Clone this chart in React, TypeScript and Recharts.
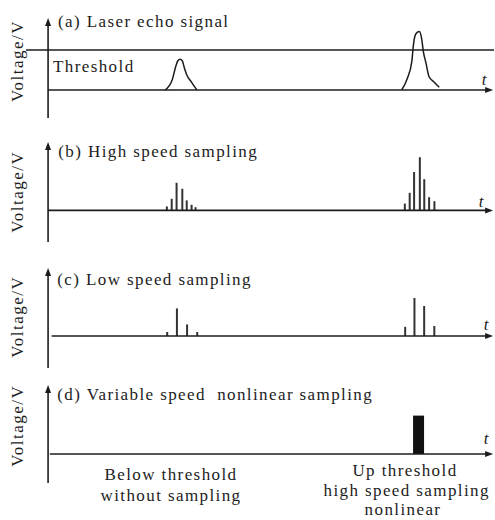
import { ComposedChart, Line, Bar, XAxis, YAxis, ReferenceLine } from "recharts";

// time axis in arbitrary units, voltage in V (threshold = 1)
const tDomain: [number, number] = [-5, 101];
const threshold = 1.0;

// (a) laser echo: weak pulse below threshold, strong pulse above it
const echoNear = [
  { t: 26.5, v: 0 }, { t: 28.1, v: 0.25 }, { t: 29.0, v: 0.62 }, { t: 29.4, v: 0.73 },
  { t: 29.9, v: 0.77 }, { t: 30.4, v: 0.73 }, { t: 30.8, v: 0.58 }, { t: 31.4, v: 0.38 },
  { t: 32.4, v: 0.21 }, { t: 33.7, v: 0 },
];
const echoFar = [
  { t: 80.1, v: 0 }, { t: 81.4, v: 0.3 }, { t: 82.4, v: 0.72 }, { t: 82.7, v: 1.08 },
  { t: 83.1, v: 1.35 }, { t: 83.6, v: 1.44 }, { t: 84.1, v: 1.46 }, { t: 84.6, v: 1.29 },
  { t: 85.0, v: 0.96 }, { t: 85.6, v: 0.67 }, { t: 86.3, v: 0.33 }, { t: 87.4, v: 0.2 },
  { t: 88.6, v: 0.07 },
];

// (b) high speed sampling
const highNear = [
  { t: 26.9, v: 0.1 }, { t: 28.0, v: 0.29 }, { t: 29.1, v: 0.69 }, { t: 30.4, v: 0.54 },
  { t: 31.4, v: 0.25 }, { t: 32.5, v: 0.14 }, { t: 33.4, v: 0.08 },
];
const highFar = [
  { t: 80.8, v: 0.17 }, { t: 81.9, v: 0.44 }, { t: 82.9, v: 0.96 }, { t: 84.2, v: 1.33 },
  { t: 85.2, v: 0.78 }, { t: 86.3, v: 0.33 }, { t: 87.5, v: 0.23 },
];

// (c) low speed sampling
const lowNear = [
  { t: 26.9, v: 0.1 }, { t: 29.1, v: 0.69 }, { t: 31.4, v: 0.29 }, { t: 33.7, v: 0.1 },
];
const lowFar = [
  { t: 80.8, v: 0.23 }, { t: 82.9, v: 0.95 }, { t: 85.1, v: 0.75 }, { t: 87.4, v: 0.25 },
];

// (d) variable speed: only the above-threshold burst is sampled
const variable = [{ t: 83.8, v: 0.96 }];

const ink = "#1c1c1c";
const font = '"Liberation Serif", "Times New Roman", serif';
const txt = { fontFamily: font, fontSize: 17, letterSpacing: 1.4, fill: ink };

const VArrow = (p: any) => {
  const x = p.x1;
  const top = Math.min(p.y1, p.y2);
  const bot = Math.max(p.y1, p.y2);
  return (
    <g>
      <line x1={x} y1={bot} x2={x} y2={top + 5} stroke={ink} strokeWidth={1.6} />
      <polygon points={`${x},${top} ${x - 3},${top + 8} ${x + 3},${top + 8}`} fill={ink} />
    </g>
  );
};

const HArrow = (p: any) => {
  const y = p.y1;
  const left = Math.min(p.x1, p.x2);
  const right = Math.max(p.x1, p.x2);
  return (
    <g>
      <line x1={left} y1={y} x2={right - 5} y2={y} stroke={ink} strokeWidth={1.6} />
      <polygon points={`${right},${y} ${right - 8},${y - 3} ${right - 8},${y + 3}`} fill={ink} />
    </g>
  );
};

const VLabel = ({ cy }: { cy: number }) => (
  <text x={23} y={cy} transform={`rotate(-90 23 ${cy})`} textAnchor="middle" {...txt} letterSpacing={1.5}>
    Voltage/V
  </text>
);

const TLabel = ({ x, y }: { x: number; y: number }) => (
  <text x={x} y={y} textAnchor="middle" {...txt} fontStyle="italic" letterSpacing={0}>
    t
  </text>
);

const W = 495;
const margin = (top: number, bottom: number) => ({ top, bottom, left: 26, right: 1 });

export default function App() {
  return (
    <div style={{ position: "absolute", left: 0, top: 0, width: W, height: 520, background: "#fff" }}>
      {/* (a) */}
      <div style={{ position: "absolute", left: 0, top: 0 }}>
        <ComposedChart width={W} height={120} margin={margin(18, 2)}>
          <XAxis hide type="number" dataKey="t" domain={tDomain} allowDataOverflow />
          <YAxis hide type="number" domain={[-0.7, 1.8]} allowDataOverflow />
          <ReferenceLine x={0} shape={VArrow} />
          <ReferenceLine y={threshold} stroke={ink} strokeWidth={1.5} />
          <ReferenceLine segment={[{ x: 0, y: 0 }, { x: 100.8, y: 0 }]} shape={HArrow} />
          <Line data={echoNear} dataKey="v" type="monotone" stroke={ink} strokeWidth={1.5} dot={false} isAnimationActive={false} />
          <Line data={echoFar} dataKey="v" type="monotone" stroke={ink} strokeWidth={1.5} dot={false} isAnimationActive={false} />
          <text x={58} y={26.7} {...txt}>(a) Laser echo signal</text>
          <text x={53} y={71.7} {...txt}>Threshold</text>
          <VLabel cy={61} />
          <TLabel x={484} y={85} />
        </ComposedChart>
      </div>

      {/* (b) */}
      <div style={{ position: "absolute", left: 0, top: 120 }}>
        <ComposedChart width={W} height={125} margin={margin(22, 3)} data={[...highNear, ...highFar]}>
          <XAxis hide type="number" dataKey="t" domain={tDomain} allowDataOverflow />
          <YAxis hide type="number" domain={[-0.79, 1.71]} allowDataOverflow />
          <ReferenceLine x={0} shape={VArrow} />
          <ReferenceLine segment={[{ x: 0, y: 0 }, { x: 100.8, y: 0 }]} shape={HArrow} />
          <Bar dataKey="v" barSize={2} fill="#333" isAnimationActive={false} />
          <text x={58.3} y={36.7} {...txt}>(b) High speed sampling</text>
          <VLabel cy={71.7} />
          <TLabel x={481} y={86.7} />
        </ComposedChart>
      </div>

      {/* (c) */}
      <div style={{ position: "absolute", left: 0, top: 245 }}>
        <ComposedChart width={W} height={125} margin={margin(23, 2)} data={[...lowNear, ...lowFar]}>
          <XAxis hide type="number" dataKey="t" domain={tDomain} allowDataOverflow />
          <YAxis hide type="number" domain={[-0.8, 1.7]} allowDataOverflow />
          <ReferenceLine x={0} shape={VArrow} />
          <ReferenceLine segment={[{ x: 0.8, y: 0 }, { x: 100.8, y: 0 }]} shape={HArrow} />
          <Bar dataKey="v" barSize={2} fill="#333" isAnimationActive={false} />
          <text x={57.3} y={40} {...txt}>(c) Low speed sampling</text>
          <VLabel cy={71.7} />
          <TLabel x={486} y={85} />
        </ComposedChart>
      </div>

      {/* (d) */}
      <div style={{ position: "absolute", left: 0, top: 365 }}>
        <ComposedChart width={W} height={155} margin={margin(20, 37)} data={variable}>
          <XAxis hide type="number" dataKey="t" domain={tDomain} allowDataOverflow />
          <YAxis hide type="number" domain={[-0.725, 1.725]} allowDataOverflow />
          <ReferenceLine x={0} shape={VArrow} />
          <ReferenceLine segment={[{ x: 0.4, y: 0 }, { x: 100.8, y: 0 }]} shape={HArrow} />
          <Bar dataKey="v" barSize={11} fill="#111" isAnimationActive={false} />
          <text x={57.3} y={35} {...txt} style={{ whiteSpace: "pre" }}>(d) Variable speed  nonlinear sampling</text>
          <VLabel cy={60.8} />
          <TLabel x={486} y={79.3} />
          <text x={171} y={115} textAnchor="middle" {...txt}>Below threshold</text>
          <text x={171} y={136} textAnchor="middle" {...txt}>without sampling</text>
          <text x={405} y={110.7} textAnchor="middle" {...txt}>Up threshold</text>
          <text x={406.7} y={131} textAnchor="middle" {...txt}>high speed sampling</text>
          <text x={403} y={150} textAnchor="middle" {...txt}>nonlinear</text>
        </ComposedChart>
      </div>
    </div>
  );
}
